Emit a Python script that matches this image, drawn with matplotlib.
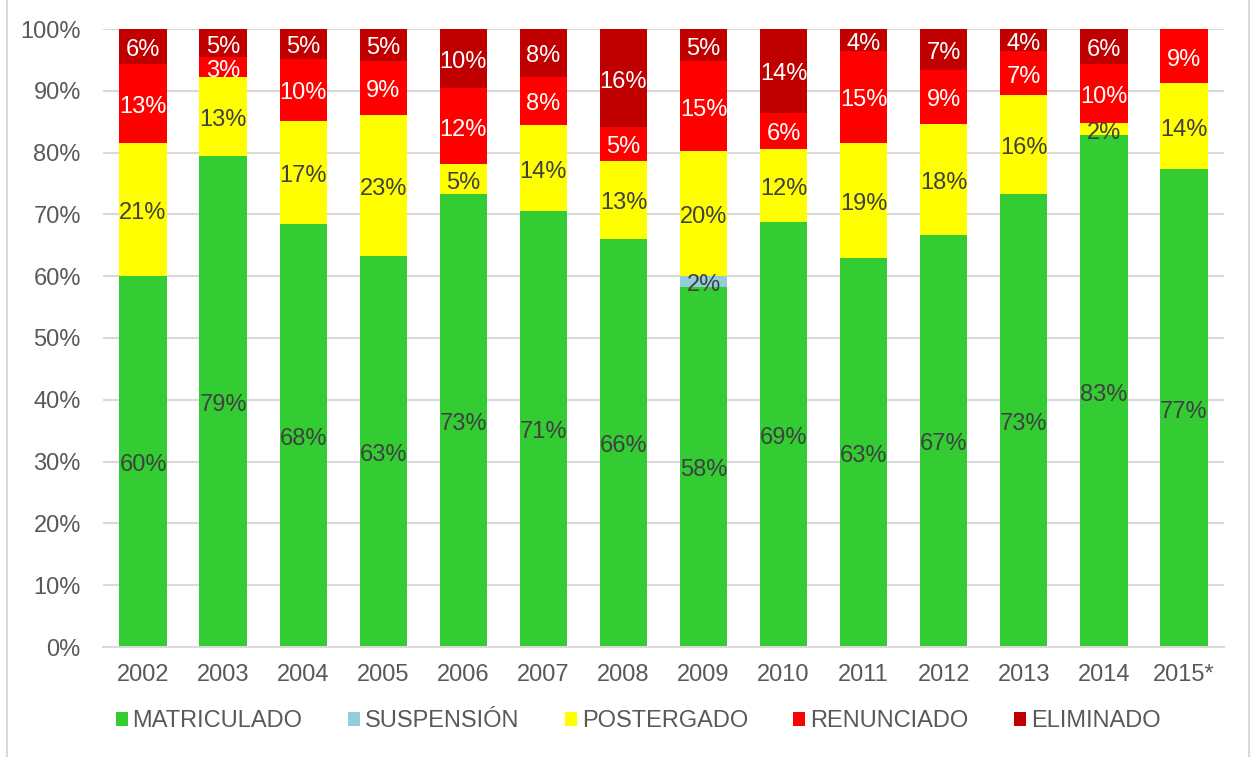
import matplotlib
matplotlib.use("Agg")
import matplotlib.pyplot as plt
from matplotlib.lines import Line2D
import numpy as np

plt.rcParams["font.family"] = ["Liberation Sans", "DejaVu Sans"]

years = ["2002", "2003", "2004", "2005", "2006", "2007", "2008",
         "2009", "2010", "2011", "2012", "2013", "2014", "2015*"]
matriculado = [60.1, 79.4, 68.4, 63.2, 73.3, 70.6, 66.1, 58.3, 68.7, 63.0, 66.7, 73.3, 82.8, 77.3]
suspension = [0, 0, 0, 0, 0, 0, 0, 1.8, 0, 0, 0, 0, 0, 0]
postergado = [21.4, 12.8, 16.7, 22.9, 4.8, 13.8, 12.6, 20.1, 11.9, 18.6, 17.9, 16.0, 2.0, 13.9]
renunciado = [12.9, 3.2, 10.1, 8.8, 12.3, 7.9, 5.4, 14.6, 5.8, 14.8, 8.8, 7.1, 9.6, 8.8]
eliminado = [5.6, 4.6, 4.8, 5.1, 9.6, 7.7, 15.9, 5.2, 13.6, 3.6, 6.6, 3.6, 5.6, 0]

series = [
    ("MATRICULADO", matriculado, "#33CC33", "#404040"),
    ("SUSPENSIÓN", suspension, "#92CDDC", "#404040"),
    ("POSTERGADO", postergado, "#FFFF00", "#404040"),
    ("RENUNCIADO", renunciado, "#FF0000", "white"),
    ("ELIMINADO", eliminado, "#C00000", "white"),
]

FS = 17
GRID = "#D9D9D9"
TXT = "#595959"

fig = plt.figure(figsize=(12.56, 7.57), dpi=100)
ax = fig.add_axes([103 / 1256, 1 - 647 / 757, (1224 - 103) / 1256, (647 - 29) / 757])

x = np.arange(len(years))
bottom = np.zeros(len(years))
for name, vals, color, lab_color in series:
    vals = np.array(vals, dtype=float)
    ax.bar(x, vals, 0.59, bottom=bottom, color=color, label=name, zorder=2)
    # value labels centred in each segment
    for xi, b, v in zip(x, bottom, vals):
        if v > 0:
            ax.annotate(f"{v:.0f}%", xy=(xi, b + v / 2), xytext=(0, -2.5),
                        textcoords="offset points", ha="center", va="center",
                        color=lab_color, fontsize=FS, zorder=3)
    bottom += vals

ax.set_xlim(-0.5, len(years) - 0.5)
ax.set_ylim(0, 100)
ax.set_yticks(np.arange(0, 101, 10))
ax.set_yticklabels([f"{t}%" for t in range(0, 101, 10)])
ax.set_xticks(x)
ax.set_xticklabels(years)
ax.tick_params(axis="both", length=0, labelsize=FS, labelcolor=TXT)
ax.tick_params(axis="y", pad=16)
ax.tick_params(axis="x", pad=12)
ax.grid(axis="y", color=GRID, linewidth=1.5, zorder=0)
for s in ["top", "right", "left"]:
    ax.spines[s].set_visible(False)
ax.spines["bottom"].set_color(GRID)
ax.spines["bottom"].set_linewidth(1.5)

fig.legend(loc="center", bbox_to_anchor=(638 / 1256, 1 - 721 / 757), ncol=5,
           frameon=False, fontsize=FS, labelcolor=TXT,
           handlelength=0.52, handleheight=0.52, handletextpad=0.2,
           columnspacing=1.92, borderaxespad=0)

# chart frame edges
for xf in (7 / 1256, 1249 / 1256):
    fig.add_artist(Line2D([xf, xf], [0, 1], color=GRID, linewidth=1.5))

fig.savefig("out.png", dpi=100)
